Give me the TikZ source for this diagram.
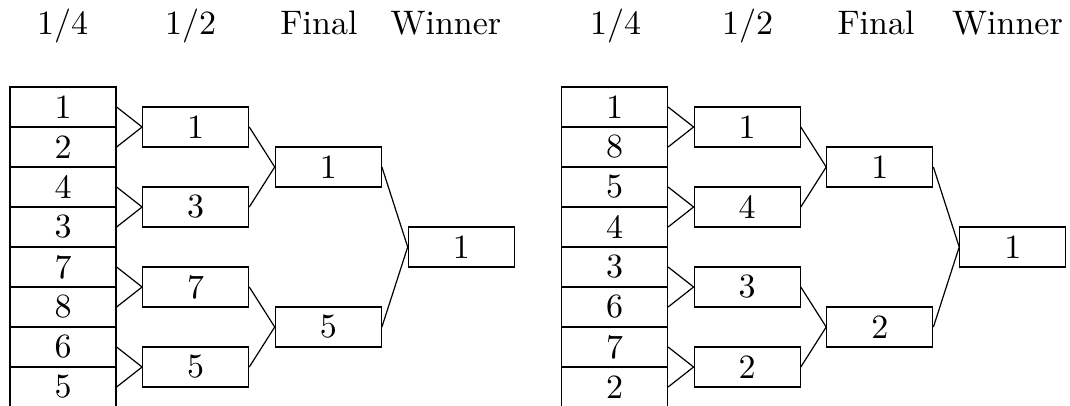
\documentclass[tikz,border=0pt]{standalone}
\newcommand{\bigtxt}[1]{\scalebox{1.7}{#1}}
\begin{document}
\begin{tikzpicture}[x=0.5pt,y=-0.5pt,
  box/.style={draw,line width=0.6pt,rectangle,minimum width=53pt,minimum height=20pt,inner sep=0pt},
  head/.style={anchor=base,inner sep=0pt},
  conn/.style={line width=0.6pt}]
\useasboundingbox (0,0) rectangle (1070,406);
% ---------- left bracket ----------
\node[head] (Lh1) at (62.5,35) {\bigtxt{1/4}};
\node[head] (Lh2) at (190.7,35) {\bigtxt{1/2}};
\node[head] (Lh3) at (319,35) {\bigtxt{Final}};
\node[head] (Lh4) at (446,35) {\bigtxt{Winner}};
\foreach \v [count=\i from 0] in {1,2,4,3,7,8,6,5}
  \node[box] (Lq\i) at (63,107+40*\i) {\bigtxt{\v}};
\foreach \v [count=\j from 0] in {1,3,7,5}
  \node[box] (Ls\j) at (195.7,127+80*\j) {\bigtxt{\v}};
\node[box] (Lf0) at (328.3,167) {\bigtxt{1}};
\node[box] (Lf1) at (328.3,327) {\bigtxt{5}};
\node[box] (Lw) at (461.3,247) {\bigtxt{1}};
\foreach \j in {0,1,2,3}{
  \pgfmathtruncatemacro{\a}{2*\j}
  \pgfmathtruncatemacro{\b}{2*\j+1}
  \draw[conn] (Lq\a.east) -- (Ls\j.west);
  \draw[conn] (Lq\b.east) -- (Ls\j.west);
}
\draw[conn] (Ls0.east) -- (Lf0.west);
\draw[conn] (Ls1.east) -- (Lf0.west);
\draw[conn] (Ls2.east) -- (Lf1.west);
\draw[conn] (Ls3.east) -- (Lf1.west);
\draw[conn] (Lf0.east) -- (Lw.west);
\draw[conn] (Lf1.east) -- (Lw.west);
% ---------- right bracket ----------
\node[head] (Rh1) at (615.7,35) {\bigtxt{1/4}};
\node[head] (Rh2) at (747.5,35) {\bigtxt{1/2}};
\node[head] (Rh3) at (876,35) {\bigtxt{Final}};
\node[head] (Rh4) at (1007.5,35) {\bigtxt{Winner}};
\foreach \v [count=\i from 0] in {1,8,5,4,3,6,7,2}
  \node[box] (Rq\i) at (614.5,107+40*\i) {\bigtxt{\v}};
\foreach \v [count=\j from 0] in {1,4,3,2}
  \node[box] (Rs\j) at (747.2,127+80*\j) {\bigtxt{\v}};
\node[box] (Rf0) at (879.8,167) {\bigtxt{1}};
\node[box] (Rf1) at (879.8,327) {\bigtxt{2}};
\node[box] (Rw) at (1012.8,247) {\bigtxt{1}};
\foreach \j in {0,1,2,3}{
  \pgfmathtruncatemacro{\a}{2*\j}
  \pgfmathtruncatemacro{\b}{2*\j+1}
  \draw[conn] (Rq\a.east) -- (Rs\j.west);
  \draw[conn] (Rq\b.east) -- (Rs\j.west);
}
\draw[conn] (Rs0.east) -- (Rf0.west);
\draw[conn] (Rs1.east) -- (Rf0.west);
\draw[conn] (Rs2.east) -- (Rf1.west);
\draw[conn] (Rs3.east) -- (Rf1.west);
\draw[conn] (Rf0.east) -- (Rw.west);
\draw[conn] (Rf1.east) -- (Rw.west);
\end{tikzpicture}
\end{document}
